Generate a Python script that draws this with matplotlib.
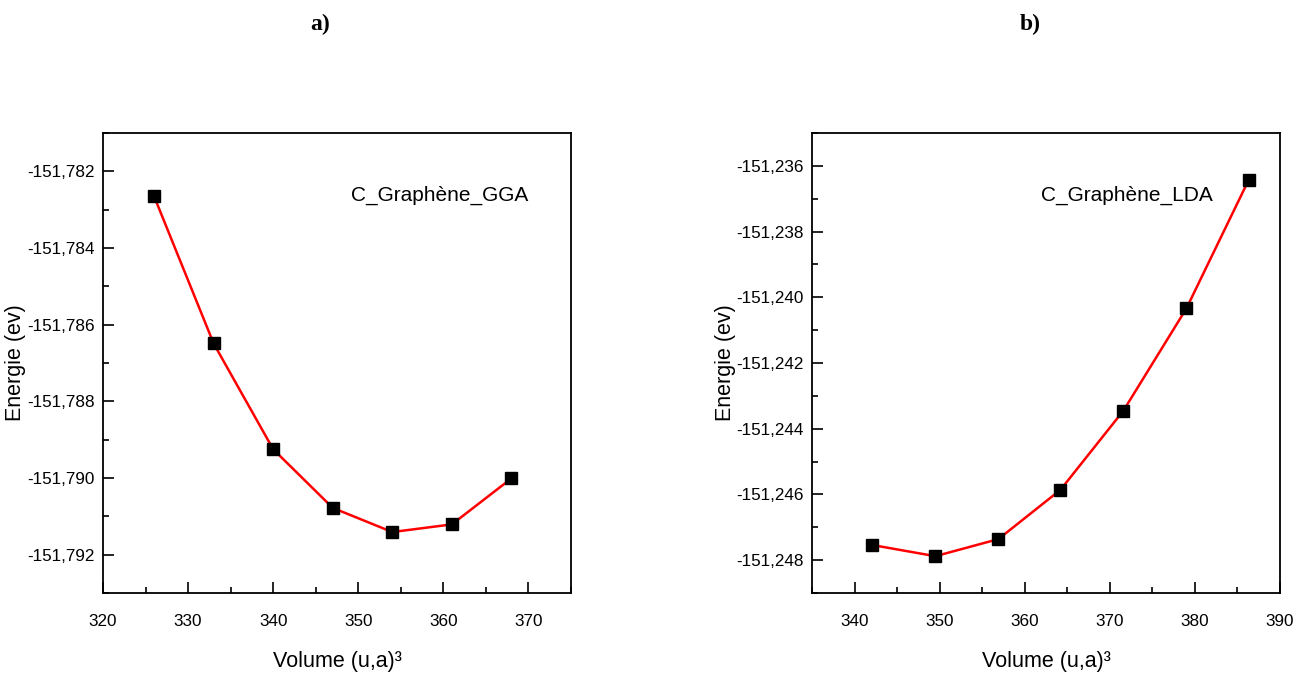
import matplotlib
matplotlib.use("Agg")
import matplotlib.pyplot as plt
from matplotlib.ticker import FuncFormatter, MultipleLocator, AutoMinorLocator

# ---- data ----
vol_gga = [326, 333, 340, 347, 354, 361, 368]
e_gga = [-151.78265, -151.78649, -151.78925, -151.79078, -151.79141, -151.79121, -151.79001]

vol_lda = [342.1, 349.5, 356.9, 364.2, 371.6, 379.0, 386.3]
e_lda = [-151.24754, -151.24788, -151.24736, -151.24586, -151.24345, -151.24034, -151.23644]

labels_panel = ["a)", "b)"]
labels_curve = ["C_Graphène_GGA", "C_Graphène_LDA"]
xlabel = "Volume (u,a)³"
ylabel = "Energie (ev)"

SANS = ["Liberation Sans", "DejaVu Sans"]
plt.rcParams['font.family'] = SANS

fig = plt.figure(figsize=(13.07, 6.79), dpi=100)
ax1 = fig.add_axes([103 / 1307, 86 / 679, 468 / 1307, 460 / 679])
ax2 = fig.add_axes([812 / 1307, 86 / 679, 468 / 1307, 460 / 679])

fmt = FuncFormatter(lambda v, p: f"{v:.3f}".replace(".", ",").replace("\u2212", "-"))

def style(ax, xlim, ylim, xmaj, ylabelpad):
    ax.set_xlim(*xlim)
    ax.set_ylim(*ylim)
    ax.xaxis.set_major_locator(MultipleLocator(xmaj))
    ax.xaxis.set_minor_locator(AutoMinorLocator(2))
    ax.yaxis.set_major_locator(MultipleLocator(0.002))
    ax.yaxis.set_minor_locator(AutoMinorLocator(2))
    ax.yaxis.set_major_formatter(fmt)
    ax.tick_params(which='both', direction='in', top=False, right=False, width=1.2,
                   labelsize=12.3, colors='black')
    ax.tick_params(which='major', length=8)
    ax.tick_params(which='minor', length=4)
    ax.tick_params(axis='x', which='major', pad=15)
    ax.tick_params(axis='y', which='major', pad=6)
    for s in ax.spines.values():
        s.set_linewidth(1.3)
    ax.set_xlabel(xlabel, fontsize=15.5, labelpad=16)
    ax.set_ylabel(ylabel, fontsize=15.5, labelpad=ylabelpad)

ax1.plot(vol_gga, e_gga, color='red', lw=1.8, marker='s', ms=8,
         mfc='black', mec='black')
style(ax1, (320, 375), (-151.793, -151.781), 10, 1)
ax1.text(0.908, 0.865, labels_curve[0], transform=ax1.transAxes, ha='right',
         va='center', fontsize=15)

ax2.plot(vol_lda, e_lda, color='red', lw=1.8, marker='s', ms=8,
         mfc='black', mec='black')
style(ax2, (335, 390), (-151.249, -151.235), 10, 0)
ax2.text(0.857, 0.865, labels_curve[1], transform=ax2.transAxes, ha='right',
         va='center', fontsize=15)

fig.text(320 / 1307, 1 - 24 / 679, labels_panel[0], ha='center', va='center',
         fontsize=17, fontweight='bold', family=['Liberation Serif', 'DejaVu Serif'])
fig.text(1030 / 1307, 1 - 24 / 679, labels_panel[1], ha='center', va='center',
         fontsize=17, fontweight='bold', family=['Liberation Serif', 'DejaVu Serif'])

fig.savefig("out.png", dpi=100, facecolor='white')
